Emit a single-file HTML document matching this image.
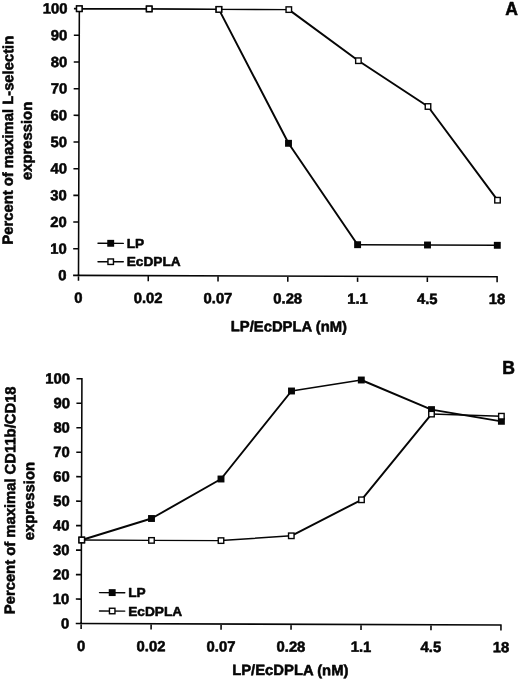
<!DOCTYPE html>
<html><head><meta charset="utf-8"><title>Figure</title>
<style>
html,body{margin:0;padding:0;background:#fff;}
svg{display:block;}
text{font-family:"Liberation Sans",Arial,sans-serif;font-weight:bold;font-size:14.8px;fill:#060606;stroke:#060606;stroke-width:0.55px;stroke-linejoin:round;}
</style></head><body>
<svg width="520" height="681" viewBox="0 0 520 681">
<rect width="520" height="681" fill="#fff"/>
<g transform="rotate(0.18 78.5 275.4)"><path d="M78.5 7.95 V280.70 M73.10 275.4 H497.82 M73.10 248.72 H78.5 M73.10 222.05 H78.5 M73.10 195.37 H78.5 M73.10 168.70 H78.5 M73.10 142.02 H78.5 M73.10 115.35 H78.5 M73.10 88.67 H78.5 M73.10 62.00 H78.5 M73.10 35.32 H78.5 M73.10 8.65 H78.5 M148.27 275.4 V281.00 M218.04 275.4 V281.00 M287.81 275.4 V281.00 M357.58 275.4 V281.00 M427.35 275.4 V281.00 M497.12 275.4 V281.00 " stroke="#060606" stroke-width="1.55" fill="none"/><text x="66.60" y="280.40" text-anchor="end">0</text><text x="66.60" y="253.72" text-anchor="end">10</text><text x="66.60" y="227.05" text-anchor="end">20</text><text x="66.60" y="200.37" text-anchor="end">30</text><text x="66.60" y="173.70" text-anchor="end">40</text><text x="66.60" y="147.02" text-anchor="end">50</text><text x="66.60" y="120.35" text-anchor="end">60</text><text x="66.60" y="93.67" text-anchor="end">70</text><text x="66.60" y="67.00" text-anchor="end">80</text><text x="66.60" y="40.32" text-anchor="end">90</text><text x="66.60" y="13.65" text-anchor="end">100</text><text x="78.50" y="302.80" text-anchor="middle">0</text><text x="148.27" y="302.80" text-anchor="middle">0.02</text><text x="218.04" y="302.80" text-anchor="middle">0.07</text><text x="287.81" y="302.80" text-anchor="middle">0.28</text><text x="357.58" y="302.80" text-anchor="middle">1.1</text><text x="427.35" y="302.80" text-anchor="middle">4.5</text><text x="497.12" y="302.80" text-anchor="middle">18</text></g>
<g><text x="288.9" y="331.5" text-anchor="middle" transform="rotate(0.18 288.9 331.5)">LP/EcDPLA (nM)</text><text transform="translate(13.0 140.2) rotate(-89.82)" text-anchor="middle">Percent of maximal L-selectin</text><text transform="translate(31.8 140.9) rotate(-89.82)" text-anchor="middle">expression</text><text x="505.3" y="15.2" style="font-size:17.6px">A</text><text x="126.7" y="248.0" style="font-size:13.7px">LP</text><text x="126.7" y="266.2" style="font-size:13.7px">EcDPLA</text></g>
<g stroke="#060606" stroke-linecap="round"><line x1="79.3" y1="8.7" x2="149.2" y2="8.9" stroke-width="1.41"/><line x1="149.2" y1="8.9" x2="218.9" y2="9.4" stroke-width="1.42"/><line x1="218.9" y1="9.4" x2="288.5" y2="143.3" stroke-width="1.95"/><line x1="288.5" y1="143.3" x2="357.6" y2="244.7" stroke-width="1.95"/><line x1="357.6" y1="244.7" x2="427.5" y2="245.0" stroke-width="1.41"/><line x1="427.5" y1="245.0" x2="497.3" y2="245.3" stroke-width="1.41"/><line x1="79.3" y1="8.7" x2="149.2" y2="8.9" stroke-width="1.41"/><line x1="149.2" y1="8.9" x2="218.9" y2="9.4" stroke-width="1.42"/><line x1="218.9" y1="9.4" x2="288.8" y2="9.6" stroke-width="1.41"/><line x1="288.8" y1="9.6" x2="358.4" y2="60.7" stroke-width="1.95"/><line x1="358.4" y1="60.7" x2="428" y2="106.5" stroke-width="1.95"/><line x1="428" y1="106.5" x2="497.5" y2="200.2" stroke-width="1.95"/><line x1="98" y1="243.3" x2="123.3" y2="243.4" stroke-width="1.4"/><line x1="98" y1="261.7" x2="123.3" y2="261.8" stroke-width="1.4"/></g>
<g><rect x="75.85" y="5.25" width="6.9" height="6.9" fill="#060606"/><rect x="145.75" y="5.45" width="6.9" height="6.9" fill="#060606"/><rect x="215.45" y="5.95" width="6.9" height="6.9" fill="#060606"/><rect x="285.05" y="139.85" width="6.9" height="6.9" fill="#060606"/><rect x="354.15" y="241.25" width="6.9" height="6.9" fill="#060606"/><rect x="424.05" y="241.55" width="6.9" height="6.9" fill="#060606"/><rect x="493.85" y="241.85" width="6.9" height="6.9" fill="#060606"/><rect x="107.25" y="239.85" width="6.9" height="6.9" fill="#060606"/><rect x="76.55" y="5.95" width="5.5" height="5.5" fill="#fff" stroke="#060606" stroke-width="1.4"/><rect x="146.45" y="6.15" width="5.5" height="5.5" fill="#fff" stroke="#060606" stroke-width="1.4"/><rect x="216.15" y="6.65" width="5.5" height="5.5" fill="#fff" stroke="#060606" stroke-width="1.4"/><rect x="286.05" y="6.85" width="5.5" height="5.5" fill="#fff" stroke="#060606" stroke-width="1.4"/><rect x="355.65" y="57.95" width="5.5" height="5.5" fill="#fff" stroke="#060606" stroke-width="1.4"/><rect x="425.25" y="103.75" width="5.5" height="5.5" fill="#fff" stroke="#060606" stroke-width="1.4"/><rect x="494.75" y="197.45" width="5.5" height="5.5" fill="#fff" stroke="#060606" stroke-width="1.4"/><rect x="107.95" y="258.95" width="5.5" height="5.5" fill="#fff" stroke="#060606" stroke-width="1.4"/></g>
<g transform="rotate(0.18 81.15 623.6)"><path d="M81.15 378.00 V628.90 M75.75 623.6 H501.67 M75.75 599.11 H81.15 M75.75 574.62 H81.15 M75.75 550.13 H81.15 M75.75 525.64 H81.15 M75.75 501.15 H81.15 M75.75 476.66 H81.15 M75.75 452.17 H81.15 M75.75 427.68 H81.15 M75.75 403.19 H81.15 M75.75 378.70 H81.15 M151.12 623.6 V629.20 M221.09 623.6 V629.20 M291.06 623.6 V629.20 M361.03 623.6 V629.20 M431.00 623.6 V629.20 M500.97 623.6 V629.20 " stroke="#060606" stroke-width="1.55" fill="none"/><text x="69.25" y="628.60" text-anchor="end">0</text><text x="69.25" y="604.11" text-anchor="end">10</text><text x="69.25" y="579.62" text-anchor="end">20</text><text x="69.25" y="555.13" text-anchor="end">30</text><text x="69.25" y="530.64" text-anchor="end">40</text><text x="69.25" y="506.15" text-anchor="end">50</text><text x="69.25" y="481.66" text-anchor="end">60</text><text x="69.25" y="457.17" text-anchor="end">70</text><text x="69.25" y="432.68" text-anchor="end">80</text><text x="69.25" y="408.19" text-anchor="end">90</text><text x="69.25" y="383.70" text-anchor="end">100</text><text x="81.15" y="651.00" text-anchor="middle">0</text><text x="151.12" y="651.00" text-anchor="middle">0.02</text><text x="221.09" y="651.00" text-anchor="middle">0.07</text><text x="291.06" y="651.00" text-anchor="middle">0.28</text><text x="361.03" y="651.00" text-anchor="middle">1.1</text><text x="431.00" y="651.00" text-anchor="middle">4.5</text><text x="500.97" y="651.00" text-anchor="middle">18</text></g>
<g><text x="290.3" y="675.1" text-anchor="middle" transform="rotate(0.18 290.3 675.1)">LP/EcDPLA (nM)</text><text transform="translate(15.1 500.3) rotate(-89.82)" text-anchor="middle">Percent of maximal CD11b/CD18</text><text transform="translate(34.1 501.1) rotate(-89.82)" text-anchor="middle">expression</text><text x="502.2" y="374" style="font-size:17.6px">B</text><text x="128.2" y="597.3000000000001" style="font-size:13.7px">LP</text><text x="128.2" y="615.5" style="font-size:13.7px">EcDPLA</text></g>
<g stroke="#060606" stroke-linecap="round"><line x1="81.75" y1="540" x2="151.5" y2="518.5" stroke-width="1.95"/><line x1="151.5" y1="518.5" x2="221" y2="479" stroke-width="1.95"/><line x1="221" y1="479" x2="291.5" y2="391" stroke-width="1.95"/><line x1="291.5" y1="391" x2="361.3" y2="380" stroke-width="1.74"/><line x1="361.3" y1="380" x2="431.5" y2="409.6" stroke-width="1.95"/><line x1="431.5" y1="409.6" x2="501.4" y2="421.3" stroke-width="1.76"/><line x1="81.75" y1="540" x2="151.5" y2="540.4" stroke-width="1.41"/><line x1="151.5" y1="540.4" x2="221" y2="540.6" stroke-width="1.41"/><line x1="221" y1="540.6" x2="291.3" y2="535.8" stroke-width="1.55"/><line x1="291.3" y1="535.8" x2="361.5" y2="499.8" stroke-width="1.95"/><line x1="361.5" y1="499.8" x2="431.5" y2="414.1" stroke-width="1.95"/><line x1="431.5" y1="414.1" x2="501.4" y2="416.2" stroke-width="1.47"/><line x1="99.5" y1="592.6" x2="124.8" y2="592.7" stroke-width="1.4"/><line x1="99.5" y1="611.0" x2="124.8" y2="611.1" stroke-width="1.4"/></g>
<g><rect x="78.30" y="536.55" width="6.9" height="6.9" fill="#060606"/><rect x="148.05" y="515.05" width="6.9" height="6.9" fill="#060606"/><rect x="217.55" y="475.55" width="6.9" height="6.9" fill="#060606"/><rect x="288.05" y="387.55" width="6.9" height="6.9" fill="#060606"/><rect x="357.85" y="376.55" width="6.9" height="6.9" fill="#060606"/><rect x="428.05" y="406.15" width="6.9" height="6.9" fill="#060606"/><rect x="497.95" y="417.85" width="6.9" height="6.9" fill="#060606"/><rect x="108.75" y="589.15" width="6.9" height="6.9" fill="#060606"/><rect x="79.00" y="537.25" width="5.5" height="5.5" fill="#fff" stroke="#060606" stroke-width="1.4"/><rect x="148.75" y="537.65" width="5.5" height="5.5" fill="#fff" stroke="#060606" stroke-width="1.4"/><rect x="218.25" y="537.85" width="5.5" height="5.5" fill="#fff" stroke="#060606" stroke-width="1.4"/><rect x="288.55" y="533.05" width="5.5" height="5.5" fill="#fff" stroke="#060606" stroke-width="1.4"/><rect x="358.75" y="497.05" width="5.5" height="5.5" fill="#fff" stroke="#060606" stroke-width="1.4"/><rect x="428.75" y="411.35" width="5.5" height="5.5" fill="#fff" stroke="#060606" stroke-width="1.4"/><rect x="498.65" y="413.45" width="5.5" height="5.5" fill="#fff" stroke="#060606" stroke-width="1.4"/><rect x="109.45" y="608.25" width="5.5" height="5.5" fill="#fff" stroke="#060606" stroke-width="1.4"/></g>
</svg>
</body></html>
